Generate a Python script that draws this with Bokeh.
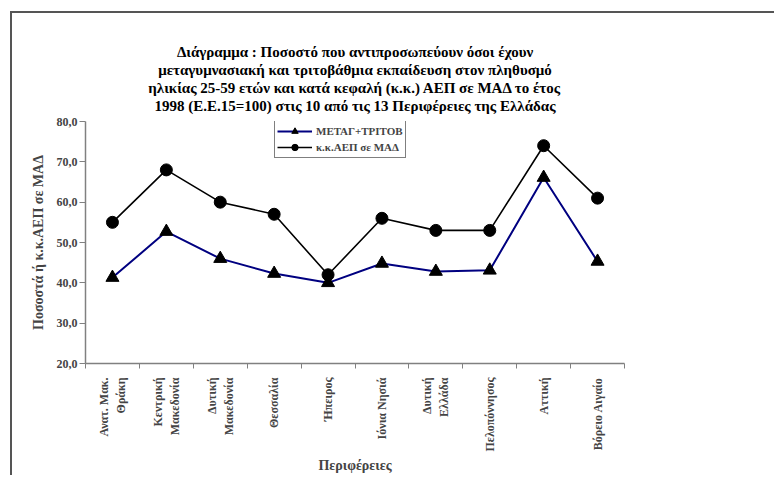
import math
from bokeh.plotting import figure
from bokeh.models import FixedTicker, Range1d, Legend, LegendItem, Title, Div
from bokeh.layouts import column
from bokeh.embed import file_html
from bokeh.resources import INLINE

regions = ["Ανατ. Μακ.\nΘράκη", "Κεντρική\nΜακεδονία", "Δυτική\nΜακεδονία", "Θεσσαλία",
           "Ήπειρος", "Ιόνια Νησιά", "Δυτική\nΕλλάδα", "Πελοπόννησος", "Αττική", "Βόρειο Αιγαίο"]
metag_tritov = [41.3, 52.7, 46.0, 42.3, 40.0, 44.8, 42.8, 43.1, 66.1, 45.3]
kk_aep = [55, 68, 60, 57, 42, 56, 53, 53, 74, 61]
y_ticks = [20, 30, 40, 50, 60, 70, 80]
y_tick_labels = ["20,0", "30,0", "40,0", "50,0", "60,0", "70,0", "80,0"]

title_lines = ["Διάγραμμα : Ποσοστό που αντιπροσωπεύουν όσοι έχουν",
               "μεταγυμνασιακή και τριτοβάθμια εκπαίδευση στον πληθυσμό",
               "ηλικίας 25-59 ετών και κατά κεφαλή (κ.κ.) ΑΕΠ σε ΜΑΔ το έτος",
               "1998 (Ε.Ε.15=100) στις 10 από τις 13 Περιφέρειες της Ελλάδας"]

FONT = "Liberation Serif"

xs = [i + 0.5 for i in range(len(regions))]

top_rule = Div(text='<div style="height:2px;width:766px;background-color:#555555;"></div>',
               width=764, height=2, margin=(11, 0, 0, 10),
               styles={"background-color": "#555555", "overflow": "hidden"})

p = figure(width=764, height=462, output_backend="svg", toolbar_location=None,
           x_range=Range1d(0, len(regions)), y_range=Range1d(20, 80),
           min_border_left=75, min_border_right=150, min_border_top=108, min_border_bottom=112)
p.margin = (0, 0, 0, 10)
p.styles = {"box-shadow": "inset 2px 0px 0px 0px #555555", "background-color": "white"}

p.title = None
# small spacer between the frame and the title block
p.add_layout(Title(text="\u00a0", text_font_size="5px", standoff=0), "above")
for line in reversed(title_lines):
    t = Title(text=line, align="center", text_font=FONT, text_font_size="15px",
              text_font_style="bold", text_color="black", offset=9, standoff=0)
    p.add_layout(t, "above")

p.outline_line_color = None
p.xgrid.visible = False
p.ygrid.visible = False
p.background_fill_color = "white"
p.border_fill_alpha = 0

# lines and markers
l1 = p.line(xs, metag_tritov, line_color="#000080", line_width=2)
m1 = p.scatter(xs, metag_tritov, marker="triangle", size=13, fill_color="black", line_color="black")
l2 = p.line(xs, kk_aep, line_color="black", line_width=1.6)
m2 = p.scatter(xs, kk_aep, marker="circle", size=12, fill_color="black", line_color="black")

legend = Legend(items=[LegendItem(label="ΜΕΤΑΓ+ΤΡΙΤΟΒ", renderers=[l1, m1]),
                       LegendItem(label="κ.κ.ΑΕΠ σε ΜΑΔ", renderers=[l2, m2])],
                location=(189, 205), orientation="vertical",
                label_text_font=FONT, label_text_font_size="11px", label_text_font_style="bold",
                glyph_width=35, glyph_height=16, label_height=16, label_standoff=4,
                padding=2, spacing=0, margin=0,
                border_line_color="black", border_line_width=1,
                background_fill_color="white", background_fill_alpha=1)
p.add_layout(legend, "center")

# y axis
ya = p.yaxis[0]
ya.ticker = FixedTicker(ticks=y_ticks, minor_ticks=[])
ya.major_label_overrides = {t_: l_ for t_, l_ in zip(y_ticks, y_tick_labels)}
ya.axis_label = "Ποσοστά ή κ.κ.ΑΕΠ σε ΜΑΔ"
ya.axis_label_text_font = FONT
ya.axis_label_text_font_size = "14px"
ya.axis_label_text_font_style = "bold"
ya.axis_label_standoff = 8
ya.major_label_text_font = FONT
ya.major_label_text_font_size = "12px"
ya.major_label_text_font_style = "bold"
ya.major_label_standoff = 2
ya.axis_line_color = "#808080"
ya.axis_line_width = 1.5
ya.major_tick_line_color = "#808080"
ya.major_tick_out = 6
ya.major_tick_in = 0

# x axis
xa = p.xaxis[0]
xa.ticker = FixedTicker(ticks=xs, minor_ticks=list(range(len(regions) + 1)))
xa.major_label_overrides = {x_: r_ for x_, r_ in zip(xs, regions)}
xa.major_label_orientation = math.pi / 2
xa.major_label_text_font = FONT
xa.major_label_text_font_size = "12px"
xa.major_label_text_font_style = "bold"
xa.major_label_standoff = 9
xa.major_tick_line_color = None
xa.major_tick_out = 0
xa.major_tick_in = 0
xa.minor_tick_line_color = "#808080"
xa.minor_tick_out = 5
xa.minor_tick_in = 0
xa.axis_line_color = "#808080"
xa.axis_line_width = 1.5
xa.axis_label = "Περιφέρειες"
xa.axis_label_text_font = FONT
xa.axis_label_text_font_size = "14px"
xa.axis_label_text_font_style = "bold"
xa.axis_label_standoff = 3

layout = column(top_rule, p, spacing=0)
open("out.html", "w").write(file_html(layout, INLINE))
